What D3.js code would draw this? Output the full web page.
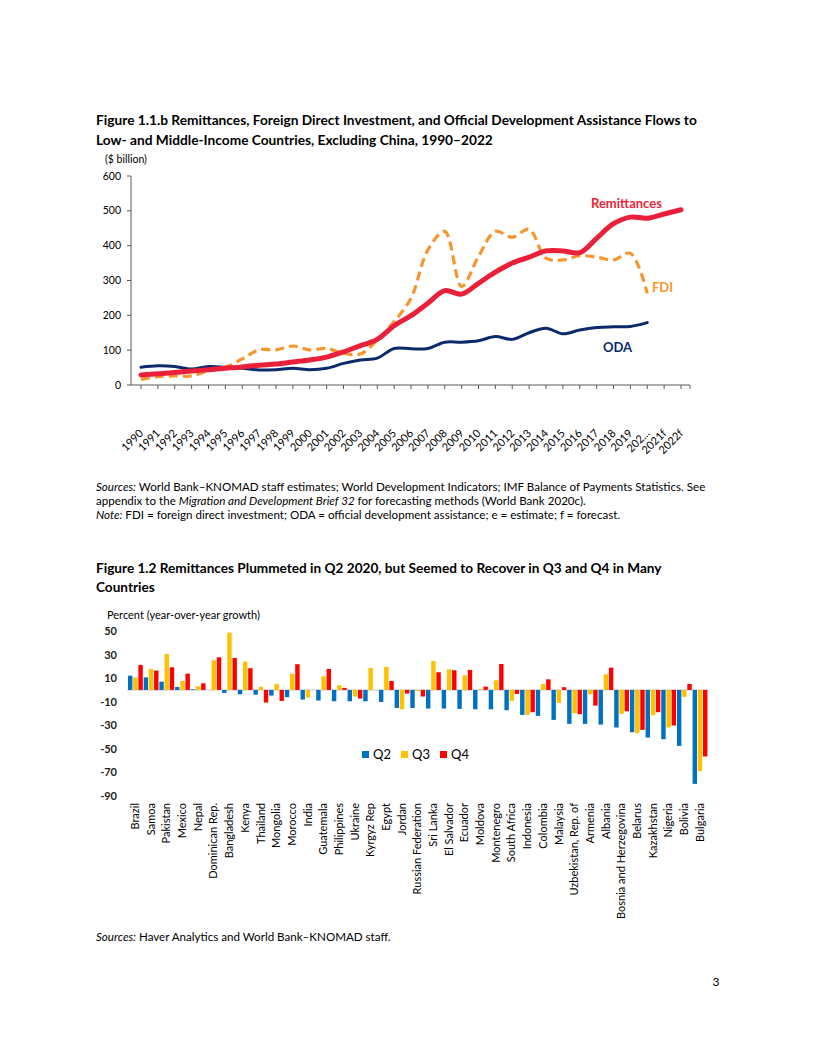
<!DOCTYPE html>
<html>
<head>
<meta charset="utf-8">
<script src="https://cdn.jsdelivr.net/npm/d3@7"></script>
<style>
  body { margin: 0; background: #fff; }
  svg text { font-family: Lato, "Open Sans", sans-serif; fill: #000; }
</style>
</head>
<body>
<svg id="page" width="816" height="1056"></svg>
<script>
// ---- figure 1.1.b data ($ billion) ----
var years = ["1990","1991","1992","1993","1994","1995","1996","1997","1998","1999",
  "2000","2001","2002","2003","2004","2005","2006","2007","2008","2009","2010",
  "2011","2012","2013","2014","2015","2016","2017","2018","2019","202...","2021f","2022f"];
var remittances = [29,32,36,40,44,48,52,57,60,66,72,80,95,113,131,170,199,235,271,261,292,
  324,350,367,385,385,380,421,463,482,479,491,503];
var fdi = [16,24,26,26,41,51,75,101,101,112,101,105,91,89,129,182,249,388,441,283,369,
  441,424,447,364,359,371,367,359,378,263,null,null];
var oda = [51,55,53,46,53,51,48,43,44,48,44,48,62,72,77,105,104,105,123,123,127,
  139,131,150,163,147,158,165,167,168,179,null,null];
var yTicksTop = [0,100,200,300,400,500,600];

// ---- figure 1.2 data (percent, year-over-year) ----
var countries = ["Brazil","Samoa","Pakistan","Mexico","Nepal","Dominican Rep.","Bangladesh",
  "Kenya","Thailand","Mongolia","Morocco","India","Guatemala","Philippines","Ukraine",
  "Kyrgyz Rep","Egypt","Jordan","Russian Federation","Sri Lanka","El Salvador","Ecuador",
  "Moldova","Montenegro","South Africa","Indonesia","Colombia","Malaysia",
  "Uzbekistan, Rep. of","Armenia","Albania","Bosnia and Herzegovina","Belarus",
  "Kazakhstan","Nigeria","Bolivia","Bulgaria"];
var q2 = [12.1,10.7,7,2.5,0.6,null,-2.5,-3.7,-4,-4.8,-6.2,-8.2,-9,-9.6,-9.6,-9.6,-10.2,
  -15.3,-15.3,-15.8,-15.8,-16.1,-16.4,-16.4,-17.2,-21.2,-22,-25.4,-28.8,-28.8,-29.4,
  -31.9,-35.9,-40.4,-41.8,-47.5,-79.7];
var q3 = [10.5,17.8,30.5,7.6,3.1,25.1,48.6,24,2.5,5.1,13.6,-6.5,11.6,4,-5.6,18.6,19.5,
  -16.4,-0.8,24.6,17.5,12.4,0.6,8.2,-9.3,-21.2,5.1,-11,-19.8,-3.7,13.3,-20.3,-36.7,
  -21.5,-31.9,-5.9,-68.9];
var q4 = [21.2,16.4,19.2,13.8,5.6,27.7,27.1,18.4,-10.7,-9.3,21.8,null,17.8,1.7,-7.3,null,
  7.6,-3.1,-5.6,15,16.7,17,2.8,22,-3.4,-18.9,9,2.3,-20.6,-13.3,18.9,-18.1,-33.9,-18.9,
  -30.2,5.1,-56.5];
var quarters = ["Q2","Q3","Q4"];
var qColors = ["#0070C0","#FFC000","#FF0000"];
var yTicksBar = [50,30,10,-10,-30,-50,-70,-90];

var svg = d3.select("#page");

// shrink/grow a text to a target width
function fitWidth(sel, w) {
  var len = sel.node().getComputedTextLength();
  var fs = parseFloat(sel.attr("font-size"));
  var nfs = fs * w / len;
  sel.attr("font-size", nfs);
  return nfs;
}

// ================= Figure 1.1.b =================
var t1 = svg.append("text").attr("x", 96).attr("y", 125).attr("font-size", 13)
  .attr("font-weight", "bold")
  .text("Figure 1.1.b Remittances, Foreign Direct Investment, and Official Development Assistance Flows to");
var fsT = fitWidth(t1, 601);
svg.append("text").attr("x", 96).attr("y", 145).attr("font-size", fsT).attr("font-weight", "bold")
  .text("Low- and Middle-Income Countries, Excluding China, 1990\u20132022");

svg.append("text").attr("x", 105).attr("y", 163).attr("font-size", 10.5).text("($ billion)");

var x = d3.scalePoint().domain(years).range([141, 681]);
var y = d3.scaleLinear().domain([0, 600]).range([385, 176]);

var gTop = svg.append("g");

// y axis
gTop.append("line").attr("x1", 131).attr("x2", 131).attr("y1", 176).attr("y2", 385)
  .attr("stroke", "#595959").attr("stroke-width", 1);
gTop.selectAll(".ytk").data(yTicksTop).enter().append("line")
  .attr("x1", 127).attr("x2", 131)
  .attr("y1", function(d) { return y(d); }).attr("y2", function(d) { return y(d); })
  .attr("stroke", "#595959");
gTop.selectAll(".ylab").data(yTicksTop).enter().append("text")
  .attr("x", 121).attr("y", function(d) { return y(d) + 3.5; })
  .attr("text-anchor", "end").attr("font-size", 10.5)
  .text(function(d) { return d; });

// x axis
gTop.append("line").attr("x1", 131).attr("x2", 690).attr("y1", 385).attr("y2", 385)
  .attr("stroke", "#595959");
gTop.selectAll(".xtk").data(years).enter().append("line")
  .attr("x1", function(d) { return x(d); }).attr("x2", function(d) { return x(d); })
  .attr("y1", 385).attr("y2", 389).attr("stroke", "#595959");
gTop.append("line").attr("x1", 690).attr("x2", 690).attr("y1", 385).attr("y2", 389)
  .attr("stroke", "#595959");
gTop.selectAll(".xlab").data(years).enter().append("text")
  .attr("text-anchor", "end").attr("font-size", 11)
  .attr("transform", function(d) { return "translate(" + (x(d) + 3) + ",434) rotate(-45)"; })
  .text(function(d) { return d; });

function drawLine(values, color, width, dash) {
  var line = d3.line()
    .defined(function(d) { return d != null; })
    .x(function(d, i) { return x(years[i]); })
    .y(function(d) { return y(d); })
    .curve(d3.curveCatmullRom.alpha(0.5));
  var p = gTop.append("path").datum(values)
    .attr("d", line).attr("fill", "none")
    .attr("stroke", color).attr("stroke-width", width)
    .attr("stroke-linecap", "round").attr("stroke-linejoin", "round");
  if (dash) p.attr("stroke-dasharray", dash).attr("stroke-linecap", "butt");
}
drawLine(oda, "#0C2A6B", 3);
drawLine(fdi, "#F7962E", 3.2, "9,5");
drawLine(remittances, "#EA1F3A", 5);

gTop.append("text").attr("x", 591).attr("y", 208)
  .attr("font-size", 13).attr("font-weight", "bold").style("fill", "#EA1F3A").text("Remittances");
gTop.append("text").attr("x", 652).attr("y", 292)
  .attr("font-size", 13).attr("font-weight", "bold").style("fill", "#F7962E").text("FDI");
gTop.append("text").attr("x", 603).attr("y", 352)
  .attr("font-size", 13).attr("font-weight", "bold").style("fill", "#0C2A6B").text("ODA");

// notes
var s1 = svg.append("text").attr("x", 96).attr("y", 491).attr("font-size", 10.5);
s1.append("tspan").attr("font-style", "italic").text("Sources:");
s1.append("tspan").text(" World Bank\u2013KNOMAD staff estimates; World Development Indicators; IMF Balance of Payments Statistics. See");
var fsN = fitWidth(s1, 610);
var s2 = svg.append("text").attr("x", 96).attr("y", 505).attr("font-size", fsN);
s2.append("tspan").text("appendix to the ");
s2.append("tspan").attr("font-style", "italic").text("Migration and Development Brief 32");
s2.append("tspan").text(" for forecasting methods (World Bank 2020c).");
var s3 = svg.append("text").attr("x", 96).attr("y", 519).attr("font-size", fsN);
s3.append("tspan").attr("font-style", "italic").text("Note:");
s3.append("tspan").text(" FDI = foreign direct investment; ODA = official development assistance; e = estimate; f = forecast.");

// ================= Figure 1.2 =================
var t2 = svg.append("text").attr("x", 96).attr("y", 573).attr("font-size", 13)
  .attr("font-weight", "bold")
  .text("Figure 1.2 Remittances Plummeted in Q2 2020, but Seemed to Recover in Q3 and Q4 in Many");
var fsT2 = fitWidth(t2, 566);
svg.append("text").attr("x", 96).attr("y", 592).attr("font-size", fsT2).attr("font-weight", "bold")
  .text("Countries");

svg.append("text").attr("x", 107).attr("y", 619).attr("font-size", 11)
  .text("Percent (year-over-year growth)");

var x0 = d3.scaleBand().domain(countries).range([127.2, 707.5]).padding(0);
var x1 = d3.scaleBand().domain(quarters).range([0.8, 15.6]).paddingInner(0.15);
var yb = d3.scaleLinear().domain([-90, 50]).range([796, 631]);

var gBar = svg.append("g");

gBar.selectAll(".yblab").data(yTicksBar).enter().append("text")
  .attr("x", 117).attr("y", function(d) { return yb(d) + 4; })
  .attr("text-anchor", "end").attr("font-size", 11).attr("font-weight", "bold")
  .style("fill", "#222")
  .text(function(d) { return d; });

gBar.append("line").attr("x1", 127).attr("x2", 708).attr("y1", yb(0)).attr("y2", yb(0))
  .attr("stroke", "#d9d9d9").attr("stroke-width", 1.5);

var series = [q2, q3, q4];
series.forEach(function(vals, k) {
  var rows = vals.map(function(v, i) { return { c: countries[i], v: v }; })
    .filter(function(r) { return r.v != null; });
  gBar.selectAll(".bar" + k).data(rows).enter().append("rect")
    .attr("x", function(r) { return x0(r.c) + x1(quarters[k]); })
    .attr("width", x1.bandwidth())
    .attr("y", function(r) { return yb(Math.max(0, r.v)); })
    .attr("height", function(r) { return Math.abs(yb(r.v) - yb(0)); })
    .attr("fill", qColors[k]);
});

gBar.selectAll(".clab").data(countries).enter().append("text")
  .attr("text-anchor", "end").attr("font-size", 11)
  .attr("transform", function(d) {
    return "translate(" + (x0(d) + x0.bandwidth() / 2 + 4) + ",803) rotate(-90)";
  })
  .text(function(d) { return d; });

// legend
var leg = gBar.selectAll(".leg").data(quarters).enter().append("g")
  .attr("transform", function(d, i) { return "translate(" + (362 + i * 39) + ",751)"; });
leg.append("rect").attr("width", 7).attr("height", 7)
  .attr("fill", function(d, i) { return qColors[i]; });
leg.append("text").attr("x", 11).attr("y", 7.5).attr("font-size", 13)
  .text(function(d) { return d; });

var s4 = svg.append("text").attr("x", 96).attr("y", 941).attr("font-size", fsN);
s4.append("tspan").attr("font-style", "italic").text("Sources:");
s4.append("tspan").text(" Haver Analytics and World Bank\u2013KNOMAD staff.");

svg.append("text").attr("x", 716).attr("y", 986).attr("text-anchor", "middle")
  .attr("font-size", 12).text("3");
</script>
</body>
</html>
